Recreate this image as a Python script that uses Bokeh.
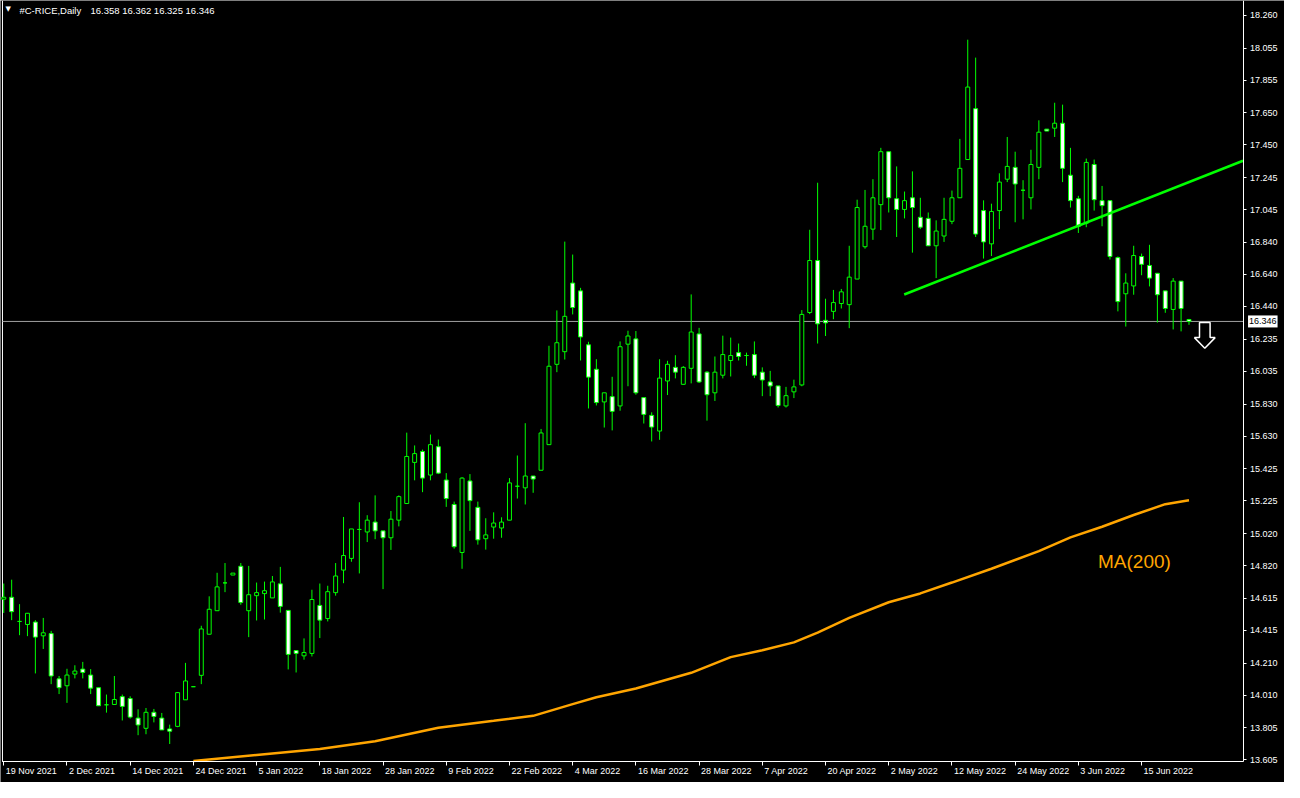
from bokeh.plotting import figure
from bokeh.models import (ColumnDataSource, FixedTicker, PrintfTickFormatter,
                          Label, Range1d)
from bokeh.embed import file_html
from bokeh.resources import INLINE

# ---------------- data ----------------
symbol_text = "#C-RICE,Daily"
ohlc_text = "16.358 16.362 16.325 16.346"

open_ = [14.610, 14.622, 14.471, 14.452, 14.467, 14.381, 14.395, 14.112, 14.069, 14.142,
         14.173, 14.136, 14.057, 13.950, 13.952, 14.001, 13.989, 13.867, 13.803, 13.903,
         13.867, 13.799, 13.815, 13.981, 14.063, 14.134, 14.391, 14.538, 14.712, 14.761,
         14.816, 14.538, 14.632, 14.645, 14.618, 14.706, 14.540, 14.289, 14.256, 14.271,
         14.571, 14.489, 14.651, 14.792, 14.865, 15.046, 15.030, 15.092, 15.037, 14.994,
         15.104, 15.208, 15.465, 15.533, 15.386, 15.563, 15.355, 15.202, 14.902, 15.349,
         15.184, 14.988, 15.061, 15.055, 15.104, 15.316, 15.306, 15.380, 15.416, 15.576,
         16.078, 16.157, 16.586, 16.537, 16.200, 16.047, 15.843, 15.876, 15.818, 16.204,
         16.237, 15.870, 15.759, 15.661, 15.974, 16.059, 15.953, 16.053, 16.268, 16.029,
         15.900, 16.010, 16.102, 16.151, 16.133, 16.139, 16.029, 15.968, 15.943, 15.818,
         15.906, 15.949, 16.402, 16.727, 16.353, 16.409, 16.458, 16.451, 16.611, 16.813,
         16.923, 17.076, 17.407, 17.113, 17.046, 17.119, 16.997, 16.990, 16.819, 16.880,
         16.972, 17.119, 17.358, 17.676, 17.039, 16.831, 17.039, 17.235, 17.309, 17.166,
         17.119, 17.309, 17.548, 17.554, 17.585, 17.260, 17.113, 16.960, 17.327, 17.101,
         17.101, 16.745, 16.519, 16.568, 16.752, 16.696, 16.647, 16.537, 16.421, 16.598,
         16.358]
high = [14.708, 14.732, 14.579, 14.524, 14.479, 14.493, 14.412, 14.130, 14.175, 14.197,
        14.218, 14.173, 14.057, 14.014, 14.130, 14.014, 14.003, 13.922, 13.930, 13.924,
        13.899, 13.826, 14.030, 14.212, 14.063, 14.444, 14.628, 14.775, 14.836, 14.773,
        14.836, 14.818, 14.714, 14.720, 14.755, 14.812, 14.540, 14.289, 14.365, 14.669,
        14.708, 14.694, 14.836, 15.124, 15.049, 15.216, 15.135, 15.259, 15.037, 15.161,
        15.259, 15.651, 15.571, 15.545, 15.639, 15.608, 15.398, 15.220, 15.373, 15.392,
        15.220, 15.116, 15.153, 15.122, 15.367, 15.508, 15.710, 15.380, 15.674, 16.194,
        16.415, 16.845, 16.764, 16.556, 16.219, 16.110, 15.900, 16.000, 16.221, 16.288,
        16.286, 15.870, 15.778, 16.110, 16.100, 16.135, 16.067, 16.515, 16.306, 16.035,
        16.127, 16.257, 16.245, 16.208, 16.151, 16.221, 16.059, 16.037, 15.943, 15.937,
        15.982, 16.417, 16.919, 17.213, 16.488, 16.543, 16.549, 16.819, 17.107, 17.168,
        17.235, 17.431, 17.407, 17.315, 17.158, 17.284, 17.119, 17.027, 16.978, 17.119,
        17.164, 17.487, 18.107, 17.995, 17.103, 17.082, 17.272, 17.499, 17.407, 17.229,
        17.419, 17.603, 17.548, 17.713, 17.701, 17.431, 17.131, 17.364, 17.358, 17.193,
        17.101, 16.752, 16.647, 16.819, 16.770, 16.825, 16.647, 16.537, 16.617, 16.598,
        16.362]
low = [14.524, 14.479, 14.385, 14.379, 14.146, 14.299, 14.079, 14.017, 13.962, 14.115,
       14.115, 14.017, 13.944, 13.901, 13.952, 13.852, 13.864, 13.760, 13.766, 13.840,
       13.793, 13.705, 13.810, 13.981, 14.063, 14.079, 14.391, 14.538, 14.654, 14.761,
       14.575, 14.373, 14.477, 14.483, 14.618, 14.526, 14.171, 14.152, 14.232, 14.252,
       14.367, 14.471, 14.632, 14.710, 14.844, 14.771, 14.967, 14.985, 14.673, 14.918,
       15.065, 15.208, 15.353, 15.279, 15.353, 15.392, 15.187, 14.926, 14.800, 15.037,
       14.951, 14.920, 14.988, 14.994, 15.104, 15.239, 15.202, 15.275, 15.416, 15.576,
       16.029, 16.108, 16.390, 16.102, 15.802, 15.821, 15.683, 15.665, 15.788, 15.941,
       15.888, 15.708, 15.596, 15.606, 15.886, 15.990, 15.950, 15.959, 15.961, 15.726,
       15.849, 15.990, 16.002, 16.102, 16.069, 15.992, 15.879, 15.879, 15.808, 15.808,
       15.867, 15.941, 16.392, 16.208, 16.255, 16.360, 16.427, 16.304, 16.611, 16.801,
       16.856, 16.917, 17.027, 16.874, 16.990, 16.776, 16.923, 16.819, 16.617, 16.843,
       16.954, 17.119, 17.358, 16.874, 16.739, 16.755, 16.923, 17.217, 16.966, 16.984,
       17.046, 17.235, 17.536, 17.499, 17.217, 17.058, 16.899, 16.935, 17.039, 16.941,
       16.733, 16.409, 16.314, 16.513, 16.635, 16.565, 16.339, 16.400, 16.296, 16.284,
       16.325]
close = [14.622, 14.532, 14.471, 14.522, 14.373, 14.400, 14.130, 14.057, 14.136, 14.161,
         14.152, 14.054, 13.944, 13.950, 13.983, 13.940, 13.873, 13.824, 13.903, 13.877,
         13.793, 13.785, 14.026, 14.099, 14.063, 14.424, 14.547, 14.687, 14.712, 14.773,
         14.589, 14.638, 14.651, 14.663, 14.718, 14.565, 14.265, 14.271, 14.277, 14.608,
         14.479, 14.657, 14.755, 14.883, 15.049, 15.046, 15.104, 15.037, 14.994, 15.110,
         15.251, 15.502, 15.520, 15.367, 15.576, 15.398, 15.239, 14.938, 15.367, 15.226,
         14.981, 15.012, 15.086, 15.092, 15.337, 15.316, 15.380, 15.361, 15.649, 16.066,
         16.213, 16.378, 16.433, 16.249, 15.998, 15.839, 15.900, 15.784, 16.188, 16.255,
         15.900, 15.765, 15.686, 15.992, 16.078, 16.029, 16.059, 16.280, 15.968, 15.888,
         16.029, 16.139, 16.133, 16.127, 16.133, 16.010, 15.980, 15.943, 15.821, 15.882,
         15.937, 16.390, 16.727, 16.331, 16.337, 16.464, 16.531, 16.623, 17.058, 16.941,
         17.119, 17.407, 17.119, 17.046, 17.101, 17.058, 16.935, 16.819, 16.911, 16.984,
         17.119, 17.303, 17.811, 16.892, 16.843, 17.033, 17.217, 17.315, 17.205, 17.166,
         17.327, 17.529, 17.536, 17.585, 17.303, 17.101, 16.941, 17.340, 17.107, 17.070,
         16.752, 16.470, 16.586, 16.758, 16.703, 16.617, 16.513, 16.427, 16.598, 16.427,
         16.346]

date_labels = ["19 Nov 2021", "2 Dec 2021", "14 Dec 2021", "24 Dec 2021", "5 Jan 2022",
               "18 Jan 2022", "28 Jan 2022", "9 Feb 2022", "22 Feb 2022", "4 Mar 2022",
               "16 Mar 2022", "28 Mar 2022", "7 Apr 2022", "20 Apr 2022", "2 May 2022",
               "12 May 2022", "24 May 2022", "3 Jun 2022", "15 Jun 2022"]
date_label_bars = [0, 8, 16, 24, 32, 40, 48, 56, 64, 72, 80, 88, 96, 104, 112, 120, 128, 136, 144]

price_ticks = [18.260, 18.055, 17.855, 17.650, 17.450, 17.245, 17.045, 16.840, 16.640,
               16.440, 16.235, 16.035, 15.830, 15.630, 15.425, 15.225, 15.020, 14.820,
               14.615, 14.415, 14.210, 14.010, 13.805, 13.605]

ma_bars = [24, 32, 40, 47, 55, 62, 67, 72, 75, 80, 87, 92, 96, 100, 103, 107, 112, 116,
           120, 125, 131, 135, 139, 143, 147, 150]
ma_values = [13.599, 13.636, 13.673, 13.722, 13.807, 13.850, 13.881, 13.954, 13.997, 14.052,
             14.150, 14.248, 14.291, 14.340, 14.401, 14.493, 14.591, 14.646, 14.714, 14.800,
             14.910, 14.996, 15.063, 15.136, 15.204, 15.228]

trend_bars = [113.96, 156.84]
trend_values = [16.5145, 17.3505]

last_price = 16.346
ma_label = "MA(200)"
ma_label_bar = 143.1
ma_label_value = 14.848

# ---------------- layout / style constants ----------------
VIEW_X = (-0.4125, 162.0875)      # whole canvas, incl. the price-scale strip
VIEW_Y = (13.4643, 18.352)        # whole canvas, incl. the date strip
CHART_X0, CHART_X1 = -0.1625, 156.84
CHART_Y0 = 13.593
GREEN = "#00ff00"
ORANGE = "#ffa500"
FONT = "Liberation Sans"

bars = list(range(len(open_)))
fill = ["black" if c > o else "white" for o, c in zip(open_, close)]
src = ColumnDataSource(dict(x=bars, o=open_, h=high, l=low, c=close,
                            top=[max(a, b) for a, b in zip(open_, close)],
                            bottom=[min(a, b) for a, b in zip(open_, close)],
                            fill=fill))

p = figure(width=1284, height=782, output_backend="svg", toolbar_location=None,
           x_range=Range1d(*VIEW_X), y_range=Range1d(*VIEW_Y),
           y_axis_location="right", background_fill_color="black",
           border_fill_color="black", outline_line_color=None,
           min_border=0, min_border_left=0, min_border_right=0,
           min_border_top=0, min_border_bottom=0)
p.grid.visible = False

# right price axis, pinned at the chart's right edge
ya = p.yaxis[0]
ya.fixed_location = CHART_X1
ya.bounds = (CHART_Y0, VIEW_Y[1])
ya.ticker = FixedTicker(ticks=price_ticks)
ya.formatter = PrintfTickFormatter(format="%.3f")
ya.axis_line_color = "white"
ya.major_tick_line_color = "white"
ya.major_tick_in = 0
ya.major_tick_out = 3
ya.minor_tick_line_color = None
ya.major_label_text_color = "white"
ya.major_label_text_font = FONT
ya.major_label_text_font_size = "9px"
ya.major_label_standoff = 4

# bottom date axis, pinned at the chart's bottom edge (ticks only)
xa = p.xaxis[0]
xa.fixed_location = CHART_Y0
xa.bounds = (CHART_X0, CHART_X1)
xa.ticker = FixedTicker(ticks=date_label_bars)
xa.axis_line_color = "white"
xa.major_tick_line_color = "white"
xa.major_tick_in = 0
xa.major_tick_out = 4
xa.minor_tick_line_color = None
xa.major_label_text_color = None

# date labels, left-aligned just right of each tick
for b, t in zip(date_label_bars, date_labels):
    p.add_layout(Label(x=b, y=CHART_Y0, x_offset=2, y_offset=-4, text=t,
                       text_align="left", text_baseline="top", text_color="white",
                       text_font=FONT, text_font_size="9px"))

# left border line
p.segment(x0=[CHART_X0], y0=[CHART_Y0], x1=[CHART_X0], y1=[VIEW_Y[1]],
          line_color="white", line_width=1)

# MA(200)
p.line(ma_bars, ma_values, line_color=ORANGE, line_width=2.5)
p.add_layout(Label(x=ma_label_bar, y=ma_label_value, text=ma_label, text_align="center",
                   text_baseline="middle", text_color=ORANGE, text_font=FONT,
                   text_font_size="19px"))

# current price line
p.segment(x0=[CHART_X0], y0=[last_price], x1=[CHART_X1], y1=[last_price],
          line_color="#a0a0a0", line_width=1)

# candles
p.segment(x0="x", y0="l", x1="x", y1="h", source=src, line_color=GREEN, line_width=1)
p.vbar(x="x", width=0.5, top="top", bottom="bottom", source=src,
       fill_color="fill", line_color=GREEN, line_width=1)

# trend line
p.line(trend_bars, trend_values, line_color=GREEN, line_width=2.5)

# down arrow (shape relative to the last bar)
arrow_dx = [-0.67, 0.67, 0.67, 1.31, 0.0, -1.31, -0.67]
arrow_dy = [-0.007, -0.007, -0.101, -0.101, -0.168, -0.101, -0.101]
ax0 = bars[-1] + 2
p.patch([ax0 + d for d in arrow_dx], [close[-1] + d for d in arrow_dy],
        fill_color="black", line_color="white", line_width=1.5)

# price label on the axis
p.add_layout(Label(x=CHART_X1, y=last_price, x_offset=5, text=f"{last_price:.3f}",
                   text_align="left", text_baseline="middle", text_color="black",
                   text_font=FONT, text_font_size="9px",
                   background_fill_color="white", padding=(1, 3)))

# header
p.add_layout(Label(x=CHART_X0, y=VIEW_Y[1], x_offset=3, y_offset=-4, text="▼",
                   text_align="left", text_baseline="top", text_color="white",
                   text_font="DejaVu Sans", text_font_size="7px"))
p.add_layout(Label(x=CHART_X0, y=VIEW_Y[1], x_offset=17, y_offset=-4, text=symbol_text,
                   text_align="left", text_baseline="top", text_color="white",
                   text_font=FONT, text_font_size="9.5px"))
p.add_layout(Label(x=CHART_X0, y=VIEW_Y[1], x_offset=88, y_offset=-4, text=ohlc_text,
                   text_align="left", text_baseline="top", text_color="white",
                   text_font=FONT, text_font_size="9.5px"))

open("out.html", "w").write(file_html(p, INLINE))
